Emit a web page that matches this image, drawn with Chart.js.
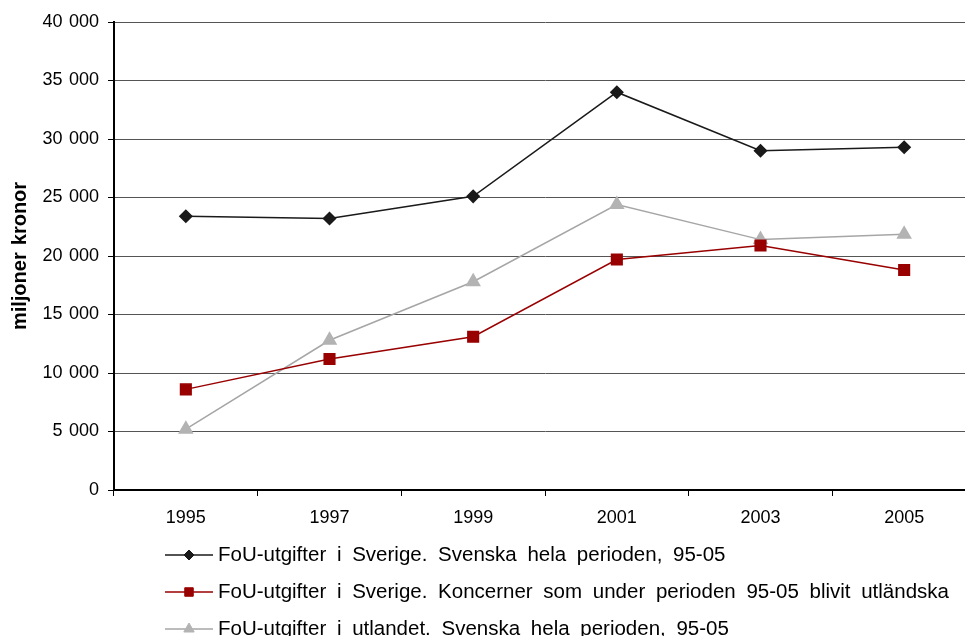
<!DOCTYPE html>
<html>
<head>
<meta charset="utf-8">
<script src="https://cdn.jsdelivr.net/npm/chart.js@4/dist/chart.umd.min.js"></script>
<style>
  html, body { margin: 0; padding: 0; background: #fff; overflow: hidden; }
  #wrap { width: 965px; height: 636px; overflow: hidden; position: relative; }
  canvas { display: block; }
</style>
</head>
<body>
<div id="wrap"><canvas id="c" width="985" height="636"></canvas></div>
<script>
const years = ['1995', '1997', '1999', '2001', '2003', '2005'];
const sverigeSvenska = [23400, 23200, 25100, 34000, 29000, 29300];
const sverigeKoncerner = [8600, 11200, 13100, 19700, 20900, 18800];
const utlandetSvenska = [5200, 12800, 17800, 24400, 21400, 21850];
const seriesLabels = [
  'FoU-utgifter i Sverige. Svenska hela perioden, 95-05',
  'FoU-utgifter i Sverige. Koncerner som under perioden 95-05 blivit utländska',
  'FoU-utgifter i utlandet. Svenska hela perioden, 95-05'
];
const yTitle = 'miljoner kronor';

const FONT = '"Liberation Sans", Arial, sans-serif';

function fmt(v) {
  return String(v).replace(/\B(?=(\d{3})+(?!\d))/g, '\u00a0');
}

const spacingPlugin = {
  id: 'wordSpacing',
  beforeDraw(chart) {
    const ctx = chart.ctx;
    if ('wordSpacing' in ctx) ctx.wordSpacing = '1.5px';
  }
};

const legendPlugin = {
  id: 'lineLegend',
  afterDraw(chart) {
    const ctx = chart.ctx;
    const rows = [555, 592, 629];
    const x0 = 165, x1 = 213, tx = 218;
    chart.data.datasets.forEach((ds, i) => {
      const y = rows[i];
      ctx.save();
      ctx.strokeStyle = ds.borderColor;
      ctx.lineWidth = 1.5;
      ctx.beginPath();
      ctx.moveTo(x0, y);
      ctx.lineTo(x1, y);
      ctx.stroke();
      ctx.fillStyle = ds.pointBackgroundColor;
      ctx.strokeStyle = ds.pointBorderColor;
      ctx.lineWidth = 1;
      Chart.helpers.drawPoint(ctx, {
        pointStyle: ds.pointStyle,
        radius: ds.legendRadius,
        rotation: 0,
        borderWidth: 1
      }, (x0 + x1) / 2, y);
      ctx.fillStyle = '#000';
      ctx.font = '20.5px ' + FONT;
      if ('wordSpacing' in ctx) ctx.wordSpacing = '5px';
      ctx.textBaseline = 'middle';
      ctx.textAlign = 'left';
      ctx.fillText(ds.label, tx, y);
      ctx.restore();
    });
  }
};

new Chart(document.getElementById('c'), {
  type: 'line',
  data: {
    labels: years,
    datasets: [
      {
        label: seriesLabels[0],
        data: sverigeSvenska,
        borderColor: '#1a1a1a',
        backgroundColor: '#1a1a1a',
        pointBackgroundColor: '#1a1a1a',
        pointBorderColor: '#1a1a1a',
        borderWidth: 1.5,
        pointStyle: 'rectRot',
        pointRadius: 6,
        legendRadius: 5,
        tension: 0
      },
      {
        label: seriesLabels[1],
        data: sverigeKoncerner,
        borderColor: '#990000',
        backgroundColor: '#990000',
        pointBackgroundColor: '#990000',
        pointBorderColor: '#990000',
        borderWidth: 1.5,
        pointStyle: 'rect',
        pointRadius: 7.5,
        legendRadius: 6,
        tension: 0
      },
      {
        label: seriesLabels[2],
        data: utlandetSvenska,
        borderColor: '#a6a6a6',
        backgroundColor: '#b3b3b3',
        pointBackgroundColor: '#b3b3b3',
        pointBorderColor: '#b3b3b3',
        borderWidth: 1.5,
        pointStyle: 'triangle',
        pointRadius: 7.5,
        legendRadius: 6,
        tension: 0
      }
    ]
  },
  options: {
    responsive: false,
    animation: false,
    devicePixelRatio: 1,
    layout: { padding: { top: 22, right: 4, bottom: 104, left: 0 } },
    plugins: {
      legend: { display: false },
      tooltip: { enabled: false }
    },
    scales: {
      x: {
        type: 'category',
        offset: true,
        grid: {
          offset: true,
          drawOnChartArea: false,
          drawTicks: true,
          tickLength: 6,
          color: '#000',
          tickColor: '#000'
        },
        border: { display: true, color: '#000', width: 2 },
        ticks: {
          color: '#000',
          font: { family: FONT, size: 18 },
          padding: 11,
          maxRotation: 0
        },
        afterFit(scale) { scale.height = 42; }
      },
      y: {
        min: 0,
        max: 40000,
        grid: {
          color: '#555',
          lineWidth: 1,
          tickLength: 6,
          tickColor: '#000'
        },
        border: { display: true, color: '#000', width: 2 },
        ticks: {
          stepSize: 5000,
          color: '#000',
          font: { family: FONT, size: 18 },
          padding: 9,
          callback: (v) => fmt(v)
        },
        title: {
          display: true,
          text: yTitle,
          color: '#000',
          font: { family: FONT, size: 20, weight: 'bold' },
          padding: { top: 8, bottom: 0 }
        },
        afterFit(scale) { scale.width = 114; }
      }
    }
  },
  plugins: [spacingPlugin, legendPlugin]
});
</script>
</body>
</html>
